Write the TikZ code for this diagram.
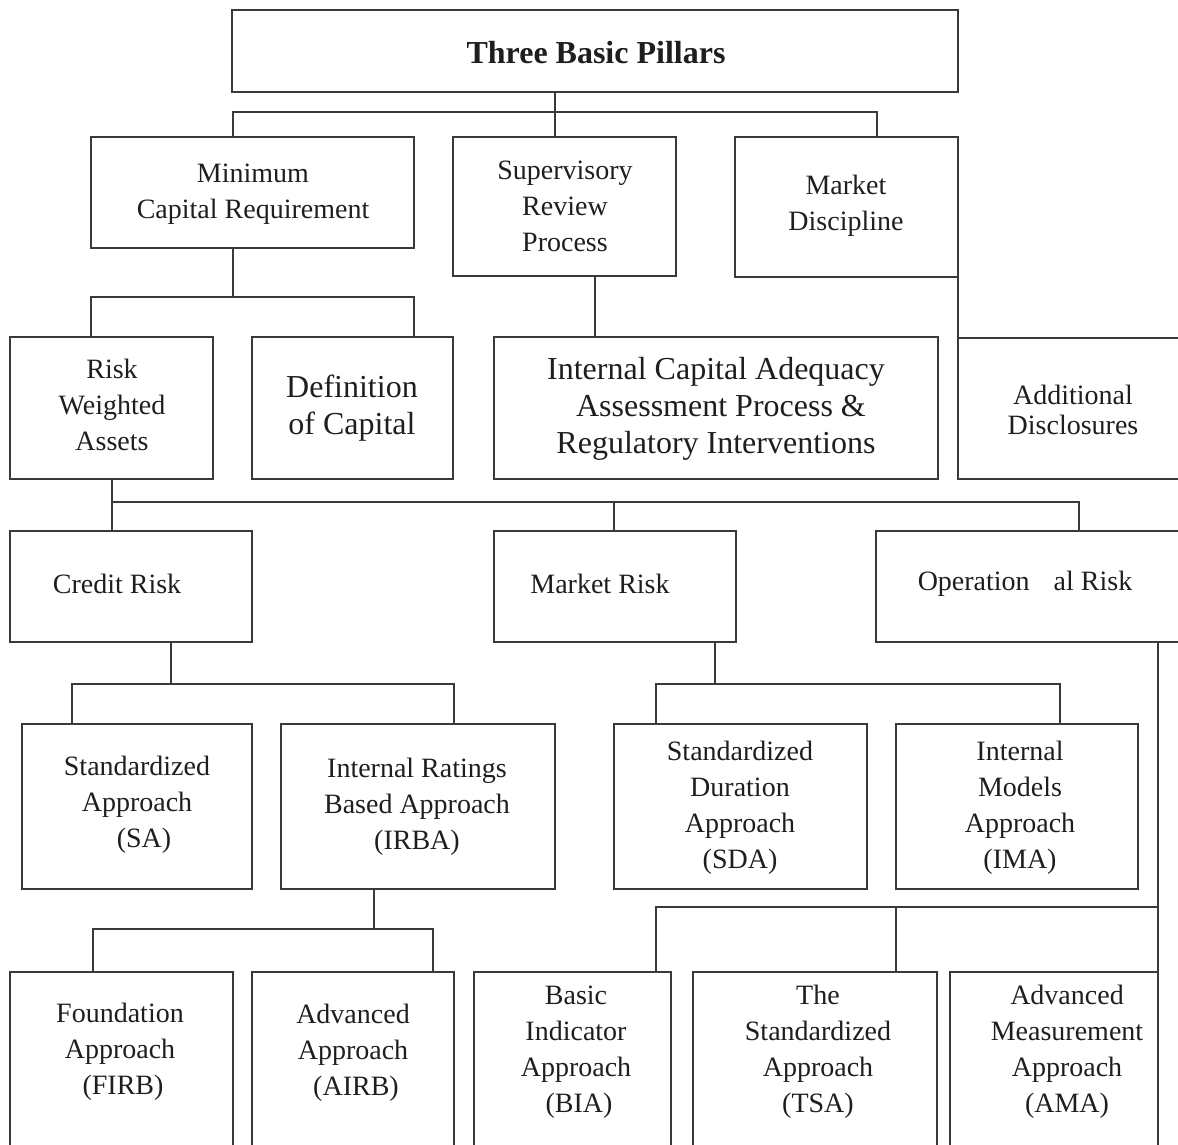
\documentclass[tikz,border=0pt]{standalone}
\usepackage{fontspec}
\setmainfont{Liberation Serif}
\definecolor{edge}{HTML}{3A3A3A}
\definecolor{ink}{HTML}{1E1E1E}
% frame box: name, left, top, right, bottom (y grows downwards)
\newcommand\frm[5]{\node[frame, minimum width={#4-#2}, minimum height={#5-#3}] (#1) at (#2,#3) {};}
\begin{document}
\begin{tikzpicture}[x=1pt,y=-1pt,
  frame/.style={draw=edge, line width=2pt, inner sep=0pt, outer sep=0pt, anchor=north west},
  txt/.style={text=ink, align=center, inner sep=0pt, font=\fontsize{28}{36}\selectfont},
  big/.style={txt, font=\fontsize{32}{37}\selectfont},
  link/.style={draw=edge, line width=2pt}]
\useasboundingbox (0,0) rectangle (1178,1145);
\clip (0,0) rectangle (1178,1145);

% ---- boxes ----
\frm{top}{232}{10}{958}{92}
\frm{mcr}{91}{137}{414}{248}
\frm{sup}{453}{137}{676}{276}
\frm{mkd}{735}{137}{958}{277}
\frm{rwa}{10}{337}{213}{479}
\frm{def}{252}{337}{453}{479}
\frm{icaap}{494}{337}{938}{479}
\frm{add}{958}{338}{1200}{479}
\frm{cr}{10}{531}{252}{642}
\frm{mr}{494}{531}{736}{642}
\frm{opr}{876}{531}{1200}{642}
\frm{sa}{22}{724}{252}{889}
\frm{irba}{281}{724}{555}{889}
\frm{sda}{614}{724}{867}{889}
\frm{ima}{896}{724}{1138}{889}
\frm{firb}{10}{972}{233}{1170}
\frm{airb}{252}{972}{454}{1170}
\frm{bia}{474}{972}{671}{1170}
\frm{tsa}{693}{972}{937}{1170}
\frm{ama}{950}{972}{1158}{1170}

% ---- texts ----
\node[big, font=\fontsize{32}{38}\selectfont\bfseries] (top-t) at (596,53) {Three Basic Pillars};
\node[txt] (mcr-t) at (253,194) {Minimum\\Capital Requirement};
\node[txt] (sup-t) at (565,206) {Supervisory\\Review\\Process};
\node[txt] (mkd-t) at (846,206) {Market\\Discipline};
\node[txt] (rwa-t) at (112,405) {Risk\\Weighted\\Assets};
\node[big] (def-t) at (352,408) {Definition\\of Capital};
\node[big] (icaap-t) at (716,409) {Internal Capital Adequacy\\\hspace*{10pt}Assessment Process \&\\Regulatory Interventions};
\node[txt, font=\fontsize{28}{30}\selectfont] (add-t) at (1073,410) {Additional\\Disclosures};
\node[txt] (cr-t) at (117,584) {Credit Risk};
\node[txt] (mr-t) at (600,584) {Market Risk};
\node[txt] (opr-t) at (1025,584) {Operation\hspace{24pt}al Risk};
\node[txt] (sa-t) at (137,805) {Standardized\\Approach\\\hspace*{14pt}(SA)};
\node[txt] (irba-t) at (417,807) {Internal Ratings\\Based Approach\\(IRBA)};
\node[txt] (sda-t) at (740,808) {Standardized\\Duration\\Approach\\(SDA)};
\node[txt] (ima-t) at (1020,808) {Internal\\Models\\Approach\\(IMA)};
\node[txt] (firb-t) at (120,1052) {Foundation\\Approach\\\hspace*{6pt}(FIRB)};
\node[txt] (airb-t) at (353,1053) {Advanced\\Approach\\\hspace*{6pt}(AIRB)};
\node[txt] (bia-t) at (576,1052) {Basic\\Indicator\\Approach\\\hspace*{6pt}(BIA)};
\node[txt] (tsa-t) at (818,1052) {The\\Standardized\\Approach\\(TSA)};
\node[txt] (ama-t) at (1067,1052) {Advanced\\Measurement\\Approach\\(AMA)};

% ---- connectors ----
% pillars
\coordinate (b0) at (555,112);
\coordinate (b0l) at (233,112);
\coordinate (b0r) at (877,112);
\draw[link] (b0 |- top.south) -- (b0 |- sup.north);
\draw[link] (b0l |- mcr.north) -- (b0l) -- (b0r) -- (b0r |- mkd.north);
% minimum capital requirement
\coordinate (b1) at (233,297);
\coordinate (b1l) at (91,297);
\coordinate (b1r) at (414,297);
\draw[link] (b1 |- mcr.south) -- (b1);
\draw[link] (b1l |- rwa.north) -- (b1l) -- (b1r) -- (b1r |- def.north);
% supervisory review
\coordinate (s1) at (595,300);
\draw[link] (s1 |- sup.south) -- (s1 |- icaap.north);
% market discipline
\draw[link] (mkd.south east) -- (add.north west);
% risk weighted assets
\coordinate (b2l) at (112,502);
\coordinate (b2m) at (614,502);
\coordinate (b2r) at (1079,502);
\draw[link] (b2l |- rwa.south) -- (b2l |- cr.north);
\draw[link] (b2l) -- (b2r) -- (b2r |- opr.north);
\draw[link] (b2m) -- (b2m |- mr.north);
% credit risk
\coordinate (b3) at (171,684);
\coordinate (b3l) at (72,684);
\coordinate (b3r) at (454,684);
\draw[link] (b3 |- cr.south) -- (b3);
\draw[link] (b3l |- sa.north) -- (b3l) -- (b3r) -- (b3r |- irba.north);
% market risk
\coordinate (b4) at (715,684);
\coordinate (b4l) at (656,684);
\coordinate (b4r) at (1060,684);
\draw[link] (b4 |- mr.south) -- (b4);
\draw[link] (b4l |- sda.north) -- (b4l) -- (b4r) -- (b4r |- ima.north);
% internal ratings based approach
\coordinate (b5) at (374,929);
\coordinate (b5l) at (93,929);
\coordinate (b5r) at (433,929);
\draw[link] (b5 |- irba.south) -- (b5);
\draw[link] (b5l |- firb.north) -- (b5l) -- (b5r) -- (b5r |- airb.north);
% operational risk
\coordinate (b6) at (1158,907);
\coordinate (b6l) at (656,907);
\coordinate (b6m) at (896,907);
\draw[link] (b6 |- opr.south) -- (b6 |- ama.north);
\draw[link] (b6l |- bia.north) -- (b6l) -- (b6);
\draw[link] (b6m) -- (b6m |- tsa.north);
\end{tikzpicture}
\end{document}
